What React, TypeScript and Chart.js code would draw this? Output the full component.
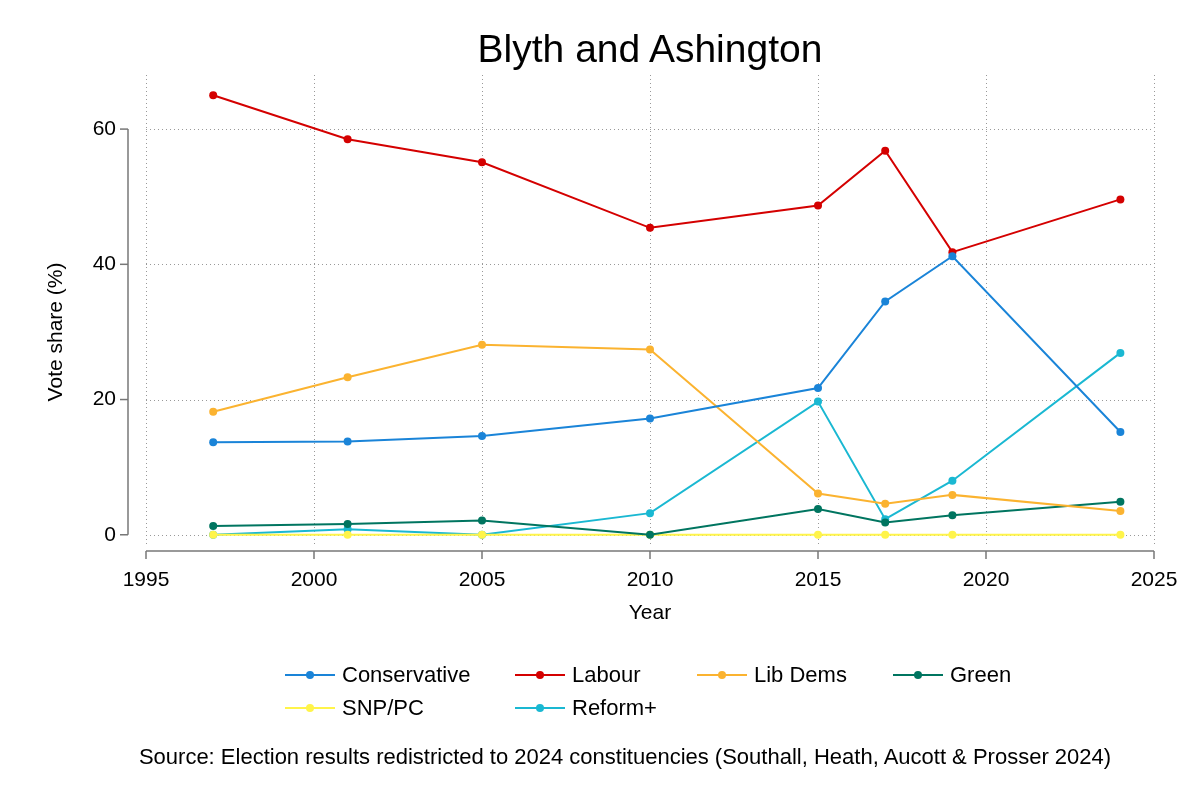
import React, { useEffect, useRef } from "react";
import { Chart, registerables } from "chart.js";
Chart.register(...registerables);

const years = [1997, 2001, 2005, 2010, 2015, 2017, 2019, 2024];
const conservative = [13.7, 13.8, 14.6, 17.2, 21.7, 34.5, 41.2, 15.2];
const labour = [65.0, 58.5, 55.1, 45.4, 48.7, 56.8, 41.8, 49.6];
const libDems = [18.2, 23.3, 28.1, 27.4, 6.1, 4.6, 5.9, 3.5];
const green = [1.3, 1.6, 2.1, 0, 3.8, 1.8, 2.9, 4.9];
const snp = [0, 0, 0, 0, 0, 0, 0, 0];
const reform = [0, 0.8, 0, 3.2, 19.7, 2.3, 8.0, 26.9];
const xTicks = [1995, 2000, 2005, 2010, 2015, 2020, 2025];
const yTicks = [0, 20, 40, 60];

const series = [
  { label: "Conservative", data: conservative, color: "#1a84d8" },
  { label: "Labour", data: labour, color: "#d40000" },
  { label: "Lib Dems", data: libDems, color: "#fbb330" },
  { label: "Green", data: green, color: "#007560" },
  { label: "SNP/PC", data: snp, color: "#fff44a" },
  { label: "Reform+", data: reform, color: "#1ab8d2" },
];
const FONT = "'Liberation Sans', Arial, sans-serif";

const axesPlugin = {
  id: "stataAxes",
  beforeDatasetsDraw(chart: any) {
    const { ctx, chartArea: a, scales } = chart;
    const x = scales.x, y = scales.y;
    ctx.save();
    ctx.strokeStyle = "#999";
    ctx.lineWidth = 1;
    ctx.setLineDash([1, 3]);
    yTicks.forEach((t) => {
      const py = Math.round(y.getPixelForValue(t)) + 0.5;
      ctx.beginPath(); ctx.moveTo(a.left, py); ctx.lineTo(a.right, py); ctx.stroke();
    });
    xTicks.forEach((t) => {
      const px = Math.round(x.getPixelForValue(t)) + 0.5;
      ctx.beginPath(); ctx.moveTo(px, a.top); ctx.lineTo(px, a.bottom - 6); ctx.stroke();
    });
    ctx.setLineDash([]);
    ctx.strokeStyle = "#777";
    ctx.lineWidth = 1.5;
    const ax = a.left - 18;
    ctx.beginPath();
    ctx.moveTo(ax, y.getPixelForValue(yTicks[0]));
    ctx.lineTo(ax, y.getPixelForValue(yTicks[yTicks.length - 1]));
    ctx.stroke();
    ctx.fillStyle = "#000";
    ctx.font = `21px ${FONT}`;
    ctx.textAlign = "right"; ctx.textBaseline = "middle";
    yTicks.forEach((t) => {
      const py = y.getPixelForValue(t);
      ctx.beginPath(); ctx.moveTo(ax - 8, py); ctx.lineTo(ax, py); ctx.stroke();
      ctx.fillText(String(t), ax - 12, py);
    });
    const ay = a.bottom;
    ctx.beginPath();
    ctx.moveTo(x.getPixelForValue(xTicks[0]), ay);
    ctx.lineTo(x.getPixelForValue(xTicks[xTicks.length - 1]), ay);
    ctx.stroke();
    ctx.textAlign = "center"; ctx.textBaseline = "top";
    xTicks.forEach((t) => {
      const px = x.getPixelForValue(t);
      ctx.beginPath(); ctx.moveTo(px, ay); ctx.lineTo(px, ay + 8); ctx.stroke();
      ctx.fillText(String(t), px, ay + 19);
    });
    ctx.font = `21px ${FONT}`;
    ctx.fillText("Year", (a.left + a.right) / 2, ay + 52);
    ctx.translate(56, y.getPixelForValue(30));
    ctx.rotate(-Math.PI / 2);
    ctx.textBaseline = "middle";
    ctx.fillText("Vote share (%)", 0, 0);
    ctx.restore();
  },
};

export default function App() {
  const ref = useRef<HTMLCanvasElement>(null);
  useEffect(() => {
    document.body.style.margin = "0";
    const chart = new Chart(ref.current!, {
      type: "line",
      data: {
        datasets: series.map((s) => ({
          label: s.label,
          data: years.map((yr, i) => ({ x: yr, y: s.data[i] })),
          borderColor: s.color,
          backgroundColor: s.color,
          borderWidth: 2,
          pointRadius: 4,
          pointHoverRadius: 4,
          pointBorderWidth: 0,
        })),
      },
      options: {
        responsive: false,
        animation: false,
        layout: { padding: { left: 146, right: 46, top: 75, bottom: 249 } },
        plugins: { legend: { display: false }, tooltip: { enabled: false } },
        scales: {
          x: { type: "linear", min: 1995, max: 2025, display: false },
          y: { min: -2.4, max: 68, display: false },
        },
      },
      plugins: [axesPlugin],
    });
    return () => chart.destroy();
  }, []);

  const legendPos = [
    [285, 675], [515, 675], [697, 675], [893, 675], [285, 708], [515, 708],
  ];
  return (
    <div style={{ position: "relative", width: 1200, height: 800, background: "#fff", fontFamily: FONT }}>
      <canvas ref={ref} width={1200} height={800} style={{ position: "absolute", left: 0, top: 0 }} />
      <div style={{ position: "absolute", left: 0, width: 1300, top: 27, textAlign: "center", fontSize: 39 }}>
        Blyth and Ashington
      </div>
      {series.map((s, i) => (
        <div key={s.label} style={{ position: "absolute", left: legendPos[i][0], top: legendPos[i][1] - 13, height: 26, display: "flex", alignItems: "center", fontSize: 22 }}>
          <div style={{ position: "relative", width: 50, height: 26, marginRight: 7 }}>
            <div style={{ position: "absolute", left: 0, top: 12, width: 50, height: 2, background: s.color }} />
            <div style={{ position: "absolute", left: 21, top: 9, width: 8, height: 8, borderRadius: 4, background: s.color }} />
          </div>
          {s.label}
        </div>
      ))}
      <div style={{ position: "absolute", left: 0, width: 1250, top: 744, textAlign: "center", fontSize: 22, whiteSpace: "nowrap" }}>
        Source: Election results redistricted to 2024 constituencies (Southall, Heath, Aucott &amp; Prosser 2024)
      </div>
    </div>
  );
}
